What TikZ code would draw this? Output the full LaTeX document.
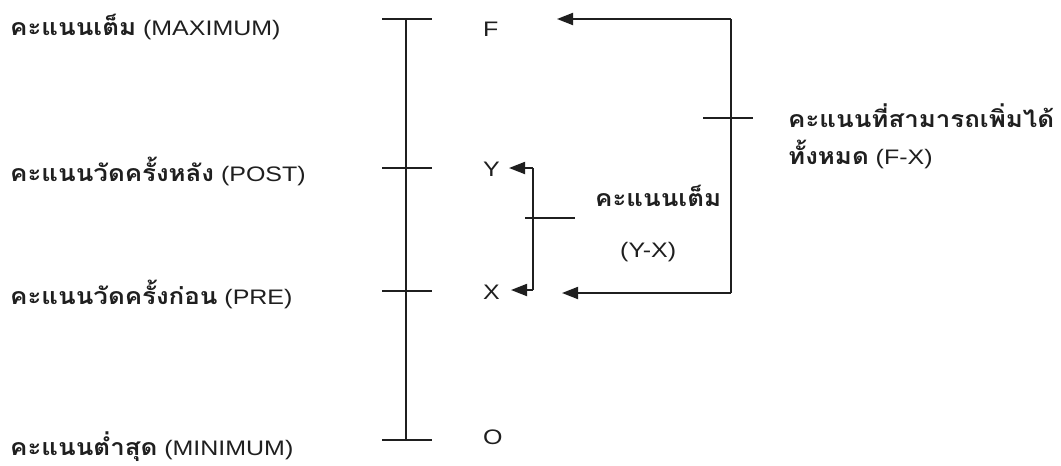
\documentclass[tikz,border=0pt]{standalone}
\usepackage{fontspec}
\setmainfont{Liberation Sans}[FakeStretch=1.19]
\newfontfamily\thai[Script=Thai,FakeStretch=1.12,Scale=1.1]{Loma}
\usetikzlibrary{arrows.meta}
\begin{document}
\begin{tikzpicture}[x=1pt,y=-1pt,
  ln/.style={line width=1.8pt,black!88},
  arr/.style={ln,-{Triangle[length=16pt,width=12pt]}},
  lbl/.style={anchor=base west,inner sep=0pt,font=\fontsize{21}{24}\selectfont,text=black!88}]
\fill[white] (0,0) rectangle (1061,466);
\useasboundingbox (0,0) rectangle (1061,466);
% axis
\coordinate (atop) at (406,19);
\coordinate (abot) at (406,440);
\draw[ln] (atop) -- (abot);
\draw[ln] (382,19) -- (432,19);
\draw[ln] (382,168) -- (432,168);
\draw[ln] (382,291) -- (432,291);
\draw[ln] (382,440) -- (432,440);
% letters
\node[lbl] (F) at (483,36) {F};
\node[lbl] (Y) at (483,176) {Y};
\node[lbl] (X) at (483,299) {X};
\node[lbl] (O) at (483,444) {O};
% left labels
\node[lbl] (lmax) at (10,35) {{\thai\bfseries คะแนนเต็ม} (MAXIMUM)};
\node[lbl] (lpost) at (10,181) {{\thai\bfseries คะแนนวัดครั้งหลัง} (POST)};
\node[lbl] (lpre) at (10,304) {{\thai\bfseries คะแนนวัดครั้งก่อน} (PRE)};
\node[lbl] (lmin) at (10,455) {{\thai\bfseries คะแนนต่ำสุด} (MINIMUM)};
% small bracket
\coordinate (ytip) at (509,168);
\coordinate (xtip) at (511,290);
\coordinate (sb1) at (533,168);
\coordinate (sb2) at (533,290);
\draw[arr] (sb1) -- (ytip);
\draw[arr] (sb2) -- (xtip);
\draw[ln] (sb1) -- (sb2);
\draw[ln] (525,218) -- (575,218);
\node[lbl] (mid1) at (595,206) {\thai\bfseries คะแนนเต็ม};
\node[lbl] (mid2) at (620,257) {(Y-X)};
% big bracket
\coordinate (ftip) at (557,19);
\coordinate (xtip2) at (562,293);
\coordinate (bb1) at (731,19);
\coordinate (bb2) at (731,293);
\draw[arr] (bb1) -- (ftip);
\draw[arr] (bb2) -- (xtip2);
\draw[ln] (bb1) -- (bb2);
\draw[ln] (703,118) -- (753,118);
\node[lbl] (r1) at (788,127) {\thai\bfseries คะแนนที่สามารถเพิ่มได้};
\node[lbl] (r2) at (788,164) {{\thai\bfseries ทั้งหมด} (F-X)};
\end{tikzpicture}
\end{document}
